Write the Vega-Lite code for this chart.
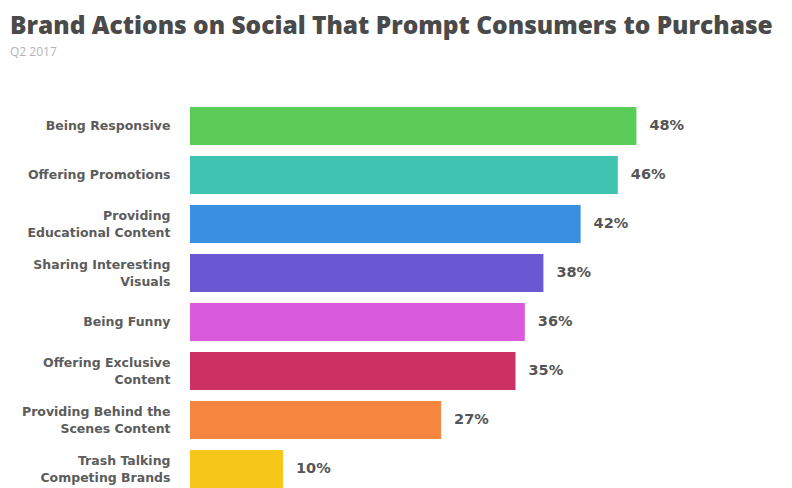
{
  "$schema": "https://vega.github.io/schema/vega-lite/v6.json",
  "width": 465,
  "height": 392,
  "autosize": "none",
  "padding": {"left": 190, "top": 101.5, "right": 137, "bottom": 0},
  "background": "#ffffff",
  "title": {
    "text": "Brand Actions on Social That Prompt Consumers to Purchase",
    "subtitle": "Q2 2017",
    "anchor": "start",
    "frame": "group",
    "dx": -180,
    "offset": 43,
    "font": "Open Sans",
    "fontSize": 24.5,
    "fontWeight": 800,
    "color": "#4a4a4a",
    "subtitleFont": "Open Sans",
    "subtitleFontSize": 12,
    "subtitleColor": "#b5b5b5",
    "subtitlePadding": 7
  },
  "data": {
    "values": [
      {"action": "Being Responsive", "share": 0.48},
      {"action": "Offering Promotions", "share": 0.46},
      {"action": "Providing|Educational Content", "share": 0.42},
      {"action": "Sharing Interesting|Visuals", "share": 0.38},
      {"action": "Being Funny", "share": 0.36},
      {"action": "Offering Exclusive|Content", "share": 0.35},
      {"action": "Providing Behind the|Scenes Content", "share": 0.27},
      {"action": "Trash Talking|Competing Brands", "share": 0.10}
    ]
  },
  "encoding": {
    "y": {
      "field": "action",
      "type": "nominal",
      "sort": null,
      "scale": {"paddingInner": 0.22, "paddingOuter": 0.11},
      "axis": {
        "title": null,
        "domain": false,
        "ticks": false,
        "labelPadding": 20,
        "labelExpr": "split(datum.label, '|')",
        "labelOffset": {"condition": {"test": "indexof(datum.label, '|') >= 0", "value": -8}, "value": 0},
        "labelFont": "DejaVu Sans",
        "labelFontSize": 12.5,
        "labelFontWeight": 700,
        "labelColor": "#5c5c5c",
        "labelLineHeight": 17,
        "labelLimit": 200
      }
    },
    "x": {
      "field": "share",
      "type": "quantitative",
      "scale": {"domain": [0, 0.5]},
      "axis": null
    }
  },
  "layer": [
    {
      "mark": {"type": "bar"},
      "encoding": {
        "color": {
          "field": "action",
          "type": "nominal",
          "sort": null,
          "legend": null,
          "scale": {
            "range": ["#5ccc58", "#40c4b2", "#3a8fe2", "#6a57d2", "#d95bdc", "#cc3163", "#f5853f", "#f6c71a"]
          }
        }
      }
    },
    {
      "mark": {
        "type": "text",
        "align": "left",
        "dx": 13,
        "font": "DejaVu Sans",
        "fontSize": 14.5,
        "fontWeight": 700,
        "color": "#555555"
      },
      "encoding": {
        "text": {"field": "share", "type": "quantitative", "format": ".0%"}
      }
    }
  ],
  "config": {"view": {"stroke": null}}
}
